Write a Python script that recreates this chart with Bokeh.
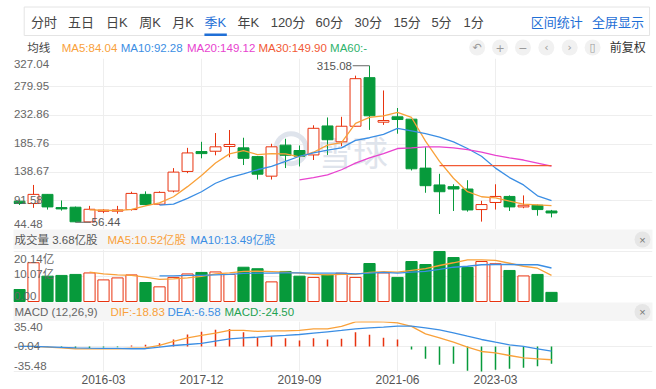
import numpy as np
from bokeh.plotting import figure
from bokeh.layouts import column
from bokeh.models import Range1d, FixedTicker, Grid, ColumnDataSource
from bokeh.core.properties import value
from bokeh.embed import file_html
from bokeh.resources import INLINE

# ---------------- data (quarterly K) ----------------
opens = [91.3, 87.4, 102.5, 80.7, 81.3, 57.0, 74.6, 74.8, 77.4, 102.5,
         86.3, 108.0, 140.4, 173.3, 173.8, 181.6, 179.4, 164.9, 132.6, 183.9,
         175.0, 167.7, 215.6, 189.4, 215.1, 295.4, 221.8, 230.7, 226.8, 145.9,
         118.1, 115.3, 111.4, 77.4, 89.1, 99.1, 81.8, 84.6, 75.1]
highs = [92.6, 118.1, 102.5, 92.4, 82.4, 83.5, 78.0, 83.5, 106.9, 107.5,
         107.5, 145.9, 179.4, 189.4, 203.9, 208.9, 196.1, 166.0, 186.1, 194.4,
         183.3, 216.7, 229.6, 230.7, 298.7, 315.08, 274.2, 245.2, 226.8, 180.5,
         136.5, 119.2, 125.9, 91.9, 119.2, 100.8, 100.8, 85.7, 76.8]
lows = [85.0, 80.2, 77.4, 75.7, 56.44, 56.6, 71.5, 70.7, 75.7, 84.6,
        85.2, 105.8, 137.6, 162.1, 167.1, 163.8, 151.0, 127.0, 127.0, 146.0,
        148.7, 159.3, 167.7, 182.2, 215.1, 209.0, 217.3, 202.8, 142.0, 105.2,
        70.1, 75.1, 74.0, 57.5, 77.4, 75.1, 79.6, 67.3, 64.5]
closes = [87.4, 102.5, 81.8, 78.5, 57.2, 77.9, 76.4, 76.8, 104.1, 85.7,
          105.8, 139.3, 171.0, 169.9, 181.1, 185.0, 162.1, 135.9, 181.1, 167.1,
          165.5, 211.7, 192.8, 215.1, 293.7, 232.4, 224.6, 226.2, 144.8, 116.9,
          106.9, 111.4, 76.8, 85.7, 99.1, 81.8, 84.6, 77.4, 71.8]
volumes = [4.83, 15.6, 10.2, 10.5, 10.9, 11.5, 8.7, 9.5, 10.7, 7.65,
           5.9, 9.7, 11.1, 11.7, 11.9, 10.9, 13.8, 13.2, 7.9, 12.1,
           10.2, 9.7, 10.7, 11.4, 9.7, 15.3, 11.5, 9.7, 16.1, 14.9,
           20.14, 17.7, 13.7, 16.1, 15.2, 12.5, 10.3, 10.9, 3.68]

ma5 = [None] * 5 + [76.8, 76.3, 75.7, 77.9, 83.5, 88.5, 98.6, 115.3, 133.7, 154.3,
                    169.4, 175.0, 168.2, 169.9, 169.4, 164.3, 172.2, 183.9, 188.0, 220.0,
                    229.6, 232.4, 237.9, 229.6, 190.5, 157.1, 129.2, 106.9, 98.6, 96.9,
                    91.4, 86.3, 85.2, 84.04]
ma10 = [None] * 10 + [84.6, 86.3, 95.8, 106.9, 120.9, 130.3, 136.5, 143.2, 148.7, 157.1,
                      165.5, 171.0, 175.5, 179.4, 191.7, 196.1, 201.7, 211.7, 207.3, 202.8,
                      197.2, 189.4, 178.3, 165.5, 145.9, 130.3, 118.1, 100.2, 92.28]
ma20 = [None] * 20 + [126.4, 130.3, 134.8, 143.2, 154.3, 162.7, 169.9, 178.3, 179.4, 181.1,
                      181.1, 179.4, 176.6, 172.2, 167.1, 162.7, 159.3, 154.3, 149.12]
ma30 = [None] * 30 + [149.9, 149.9, 149.9, 149.9, 149.9, 149.9, 149.9, 149.9, 149.90]

vol_ma5 = [None] * 5 + [11.8, 11.1, 10.7, 10.5, 9.8, 8.9, 9.1, 9.5, 10.1, 11.1,
                        11.5, 12.1, 12.2, 12.0, 11.8, 11.4, 10.9, 10.7, 10.9, 10.9,
                        11.7, 12.0, 11.8, 12.5, 13.2, 14.5, 15.6, 16.8, 16.8, 16.6,
                        15.4, 14.2, 13.4, 10.52]
vol_ma10 = [None] * 10 + [10.3, 10.3, 10.5, 10.5, 10.7, 10.9, 11.3, 11.4, 11.4, 11.5,
                          11.5, 11.4, 11.4, 11.4, 11.1, 11.4, 11.7, 11.4, 11.8, 12.1,
                          12.9, 13.8, 14.2, 14.8, 14.9, 14.9, 14.8, 14.8, 13.49]

dif = [0.0, 0.0, -1.0, -2.0, -3.3, -3.3, -3.3, -3.3, -2.5, -2.0,
       1.4, 7.1, 12.3, 15.6, 18.9, 22.7, 22.7, 21.3, 22.2, 22.2,
       22.7, 25.0, 25.0, 28.4, 35.0, 35.40, 35.0, 33.5, 28.4, 17.9,
       12.3, 6.1, -0.9, -7.1, -9.0, -12.8, -16.1, -17.5, -18.83]
dea = [0.0, 0.0, -0.5, -1.2, -2.0, -2.4, -2.6, -2.8, -3.2, -3.2,
       -1.0, 1.4, 2.8, 4.3, 7.6, 10.9, 12.3, 13.2, 14.6, 15.6,
       17.0, 18.9, 20.8, 22.7, 25.0, 26.5, 27.4, 28.8, 28.8, 26.5,
       23.6, 19.4, 14.6, 9.9, 6.1, 2.4, 0.0, -3.3, -6.58]
macd_hist = [0.0, 0.0, -0.5, -1.5, -2.5, -2.0, -1.5, -1.0, 1.5, 2.5,
             4.5, 10.0, 17.0, 20.8, 23.6, 24.6, 20.3, 13.2, 14.2, 11.8,
             8.5, 11.8, 9.9, 10.9, 20.3, 16.5, 12.3, 9.9, -4.3, -17.5,
             -26.0, -24.6, -34.5, -35.48, -33.1, -31.7, -30.2, -28.0, -24.50]

price_ticks = [44.48, 91.58, 138.67, 185.76, 232.86, 279.95, 327.04]
vol_ticks = [0.00, 10.07, 20.14]
macd_ticks = [-35.48, -0.04, 35.40]
date_ticks = [6, 13, 20, 27, 34]
date_labels = ["2016-03", "2017-12", "2019-09", "2021-06", "2023-03"]
tabs = ["分时", "五日", "日K", "周K", "月K", "季K", "年K", "120分", "60分", "30分", "15分", "5分", "1分"]
active_tab = "季K"

# ---------------- styling ----------------
FONT = "Liberation Sans, Noto Sans CJK SC"
RED = "#e8330f"
GREEN = "#079a3b"
C_MA5 = "#f9a13a"
C_MA10 = "#3b8ee4"
C_MA20 = "#e843cf"
C_MA30 = "#f25a35"
C_MA60 = "#2fb36d"
GRIDC = "#eeeeee"
LABC = "#666666"
BLUE_UI = "#1f6fd6"

W = 656
LEFT, RIGHT = 13, 4
STEP = 14.0
XS = -6 / STEP
XE = XS + (W - LEFT - RIGHT) / STEP

n = len(closes)
xs = np.arange(n)
o = np.array(opens); c = np.array(closes)
up = c >= o
cols = np.where(up, RED, GREEN)
fills = np.where(up, "white", GREEN)
src = ColumnDataSource(dict(
    x=xs, o=o, h=np.array(highs), l=np.array(lows), c=c,
    top=np.maximum(o, c), bot=np.minimum(o, c),
    col=cols, fill=fills, vol=np.array(volumes),
    hist=np.array(macd_hist),
    hcol=np.where(np.array(macd_hist) >= 0, RED, GREEN),
))


def arr(v):
    return np.array(v, dtype=float)


def make(h, yr, xr=None, top=0, bottom=0, left=LEFT, right=RIGHT, xaxis=False, bg="white"):
    p = figure(width=W, height=h, x_range=xr if xr is not None else Range1d(XS, XE), y_range=yr,
               output_backend="svg", toolbar_location=None,
               x_axis_type="linear" if xaxis else None, y_axis_type=None,
               min_border_left=left, min_border_right=right,
               min_border_top=top, min_border_bottom=bottom)
    p.outline_line_color = None
    p.border_fill_color = "white"
    p.background_fill_color = bg
    return p


def txt(p, x, y, s, color, size="11.5px", align="left", base="middle", font=FONT, yoff=0):
    p.text(x=x, y=y, text=s, text_color=color, text_font=value(font), text_font_size=size,
           text_align=align, text_baseline=base, y_offset=yoff)


def grids(p, yticks):
    p.add_layout(Grid(dimension=0, ticker=FixedTicker(ticks=[XS] + date_ticks), grid_line_color=GRIDC))
    if yticks:
        p.add_layout(Grid(dimension=1, ticker=FixedTicker(ticks=yticks), grid_line_color=GRIDC))


# ---------------- header (tabs + MA legend) ----------------
hd = make(58, Range1d(58, 0), xr=Range1d(0, W), left=0, right=0)
hd.quad(left=[11], right=[653], top=[6.5], bottom=[35], fill_color=None, line_color="#e4e4e4")
tab_x = [18, 56, 95, 129, 163, 196, 230, 264, 310, 350, 390, 429, 462]
for t, tx in zip(tabs, tab_x):
    txt(hd, [tx], [21.5], [t], BLUE_UI if t == active_tab else "#444444", size="13px")
ai = tabs.index(active_tab)
hd.quad(left=[tab_x[ai]], right=[tab_x[ai] + 23], top=[33], bottom=[35.5], fill_color=BLUE_UI, line_color=None)
txt(hd, [531], [21.5], ["区间统计"], BLUE_UI, size="13px")
txt(hd, [594], [21.5], ["全屏显示"], BLUE_UI, size="13px")

txt(hd, [14], [47], ["均线"], "#444444", size="11.5px")
txt(hd, [49.5], [47], [f"MA5:{ma5[-1]:.2f}"], C_MA5)
txt(hd, [110], [47], [f"MA10:{ma10[-1]:.2f}"], C_MA10)
txt(hd, [178], [47], [f"MA20:{ma20[-1]:.2f}"], C_MA20)
txt(hd, [251.5], [47], [f"MA30:{ma30[-1]:.2f}"], C_MA30)
txt(hd, [325], [47], ["MA60:-"], C_MA60)
icon_x = [476, 499.5, 523, 547, 571, 594.5]
icons = ["↶", "+", "−", "‹", "›", "▯"]
hd.scatter(x=icon_x, y=[47] * 6, size=16, marker="circle", fill_color="#f1f1f1", line_color=None)
txt(hd, icon_x, [47] * 6, icons, "#9a9a9a", size="11px", align="center", font="DejaVu Sans")
txt(hd, [612], [47], ["前复权"], "#333333", size="12px")

# ---------------- price panel ----------------
pp = make(171, Range1d(price_ticks[0], price_ticks[-1]))
grids(pp, price_ticks)
# watermark
pp.scatter(x=[19.4], y=[178], size=30, marker="circle", fill_color=None, line_color="#dfe4ec", line_width=5)
pp.text(x=[21.3], y=[175], text=["雪球"], text_color="#dfe4ec", text_font=value("Noto Sans CJK SC"),
        text_font_size="35px", text_baseline="middle", text_align="left")
pp.segment(x0="x", y0="l", x1="x", y1="h", color="col", line_width=1, source=src)
pp.vbar(x="x", top="top", bottom="bot", width=0.78, fill_color="fill", line_color="col", line_width=1, source=src)
pp.line(xs, arr(ma5), color=C_MA5, line_width=1.3)
pp.line(xs, arr(ma10), color=C_MA10, line_width=1.3)
pp.line(xs, arr(ma20), color=C_MA20, line_width=1.3)
pp.line(xs, arr(ma30), color=C_MA30, line_width=1.3)
imax = int(np.argmax(highs)); imin = int(np.argmin(lows))
pp.segment(x0=[imax], y0=[highs[imax]], x1=[imax - 1.2], y1=[highs[imax]], color="#666666", line_width=1)
txt(pp, [imax - 1.25], [highs[imax]], [f"{highs[imax]:.2f}"], "#555555", align="right")
pp.segment(x0=[imin], y0=[lows[imin]], x1=[imin + 1.1], y1=[lows[imin]], color="#666666", line_width=1)
txt(pp, [imin + 1.15], [lows[imin]], [f"{lows[imin]:.2f}"], "#555555", align="left")
plab = [f"{t:.2f}" for t in price_ticks]
txt(pp, [XS + 0.03], [price_ticks[-1]], [plab[-1]], LABC, base="top", yoff=1.5)
txt(pp, [XS + 0.03] * 5, price_ticks[1:-1], plab[1:-1], LABC, yoff=-1)
txt(pp, [XS + 0.03], [price_ticks[0]], [plab[0]], LABC, base="bottom", yoff=-2)

# ---------------- volume header ----------------
vh = make(20, Range1d(0, 20), xr=Range1d(LEFT, W - RIGHT), bg="#f5f5f5")
txt(vh, [14], [10], [f"成交量 {volumes[-1]:.2f}亿股"], "#555555")
txt(vh, [107], [10], [f"MA5:{vol_ma5[-1]:.2f}亿股"], C_MA5)
txt(vh, [190], [10], [f"MA10:{vol_ma10[-1]:.2f}亿股"], C_MA10)
vh.scatter(x=[642], y=[10], size=16, marker="circle", fill_color="#e6e6e6", line_color=None)
txt(vh, [642], [10], ["×"], "#777777", size="11px", align="center")

# ---------------- volume panel ----------------
vp = make(53, Range1d(-0.4, 20.94))
grids(vp, vol_ticks[1:])
vp.vbar(x="x", top="vol", bottom=0, width=0.8, fill_color="fill", line_color="col", line_width=1, source=src)
vp.line(xs, arr(vol_ma5), color=C_MA5, line_width=1.3)
vp.line(xs, arr(vol_ma10), color=C_MA10, line_width=1.3)
vlab = [f"{vol_ticks[0]:.2f}", f"{vol_ticks[1]:.2f}亿", f"{vol_ticks[2]:.2f}亿"]
txt(vp, [XS + 0.03], [vol_ticks[2]], [vlab[2]], LABC, base="top", yoff=1.5)
txt(vp, [XS + 0.03], [vol_ticks[1]], [vlab[1]], LABC, yoff=-2)
txt(vp, [XS + 0.03], [vol_ticks[0]], [vlab[0]], LABC, base="bottom", yoff=-2)

# ---------------- MACD header ----------------
mh = make(19, Range1d(0, 19), xr=Range1d(LEFT, W - RIGHT), bg="#f5f5f5")
txt(mh, [14], [9.5], ["MACD (12,26,9)"], "#666666")
txt(mh, [110], [9.5], [f"DIF:{dif[-1]:.2f}"], C_MA5)
txt(mh, [167], [9.5], [f"DEA:{dea[-1]:.2f}"], C_MA10)
txt(mh, [224], [9.5], [f"MACD:{macd_hist[-1]:.2f}"], "#1fa252")
mh.scatter(x=[642], y=[9.5], size=16, marker="circle", fill_color="#e6e6e6", line_color=None)
txt(mh, [642], [9.5], ["×"], "#777777", size="11px", align="center")

# ---------------- MACD panel ----------------
mp = make(68, Range1d(-36.9, 35.40), bottom=17, xaxis=True)
mp.xgrid.grid_line_color = None
grids(mp, macd_ticks)
mp.segment(x0="x", y0=0, x1="x", y1="hist", color="hcol", line_width=1.5, source=src)
mp.line(xs, arr(dif), color=C_MA5, line_width=1.3)
mp.line(xs, arr(dea), color=C_MA10, line_width=1.3)
mlab = [f"{t:.2f}" for t in macd_ticks]
txt(mp, [XS + 0.03], [macd_ticks[2]], [mlab[2]], LABC, base="top", yoff=1.5)
txt(mp, [XS + 0.03], [macd_ticks[1]], [mlab[1]], LABC)
txt(mp, [XS + 0.03], [macd_ticks[0]], [mlab[0]], LABC, base="bottom", yoff=-1)
ax = mp.xaxis[0]
ax.ticker = FixedTicker(ticks=date_ticks)
ax.major_label_overrides = {t: s for t, s in zip(date_ticks, date_labels)}
ax.axis_line_color = None
ax.major_tick_line_color = None
ax.minor_tick_line_color = None
ax.major_tick_out = 0
ax.major_label_standoff = 2
ax.major_label_text_font = FONT
ax.major_label_text_font_size = "12px"
ax.major_label_text_color = "#555555"

layout = column(hd, pp, vh, vp, mh, mp, spacing=0)
open("out.html", "w").write(file_html(layout, INLINE))
